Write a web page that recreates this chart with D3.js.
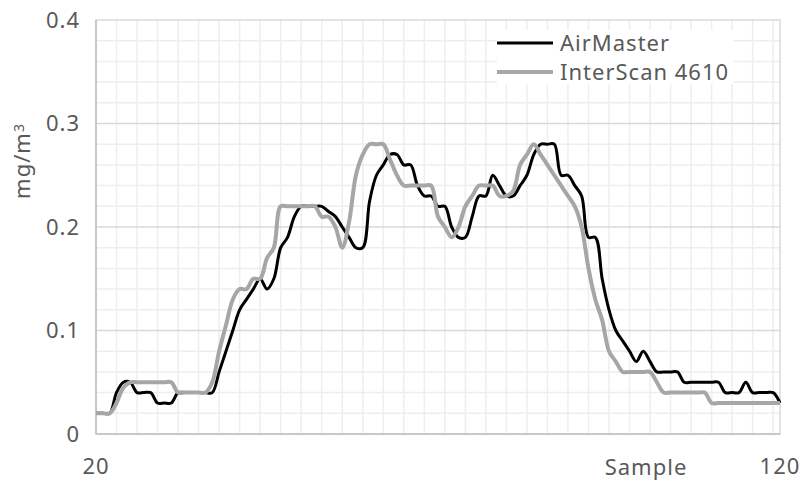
<!DOCTYPE html>
<html>
<head>
<meta charset="utf-8">
<script src="https://cdn.jsdelivr.net/npm/d3@7"></script>
<style>
  body { margin: 0; background: #fff; }
  svg text { font-family: "Noto Sans", "Open Sans", sans-serif; fill: #595959; letter-spacing: 1px; }
</style>
</head>
<body>
<script>
//chart data
var samples = d3.range(20, 121); //sample numbers 20..120
var airMaster = [
  0.02,0.02,0.02,0.04,0.05,0.05,0.04,0.04,0.04,0.03,
  0.03,0.03,0.04,0.04,0.04,0.04,0.04,0.04,0.06,0.08,
  0.10,0.12,0.13,0.14,0.15,0.14,0.15,0.18,0.19,0.21,
  0.22,0.22,0.22,0.22,0.215,0.21,0.20,0.19,0.18,0.18,
  0.225,0.25,0.26,0.27,0.27,0.26,0.26,0.24,0.23,0.23,
  0.22,0.22,0.20,0.19,0.19,0.21,0.23,0.23,0.25,0.24,
  0.23,0.23,0.24,0.25,0.27,0.28,0.28,0.28,0.25,0.25,
  0.24,0.23,0.19,0.19,0.15,0.12,0.10,0.09,0.08,0.07,
  0.08,0.07,0.06,0.06,0.06,0.06,0.05,0.05,0.05,0.05,
  0.05,0.05,0.04,0.04,0.04,0.05,0.04,0.04,0.04,0.04,
  0.03
];
var interScan = [
  0.02,0.02,0.02,0.03,0.045,0.05,0.05,0.05,0.05,0.05,
  0.05,0.05,0.04,0.04,0.04,0.04,0.04,0.05,0.08,0.105,
  0.13,0.14,0.14,0.15,0.15,0.17,0.18,0.22,0.22,0.22,
  0.22,0.22,0.22,0.21,0.21,0.20,0.18,0.205,0.25,0.27,
  0.28,0.28,0.28,0.265,0.25,0.24,0.24,0.24,0.24,0.24,
  0.21,0.20,0.19,0.20,0.22,0.23,0.24,0.24,0.24,0.23,
  0.23,0.235,0.26,0.27,0.28,0.27,0.26,0.25,0.24,0.23,
  0.22,0.20,0.16,0.13,0.11,0.08,0.07,0.06,0.06,0.06,
  0.06,0.06,0.05,0.04,0.04,0.04,0.04,0.04,0.04,0.04,
  0.03,0.03,0.03,0.03,0.03,0.03,0.03,0.03,0.03,0.03,
  0.03
];
var seriesNames = ["AirMaster", "InterScan 4610"];
var seriesColors = ["#000000", "#a6a6a6"];
var yTicks = [0, 0.1, 0.2, 0.3, 0.4];
var xTicks = [20, 120];

(function(){
    var width = 802, height = 485;
    var margin = {left: 96, right: 22, top: 20, bottom: 51};

    var svg = d3.select("body").append("svg")
        .attr("width", width)
        .attr("height", height);

    var x = d3.scaleLinear().domain([20, 120]).range([margin.left, width - margin.right]);
    var y = d3.scaleLinear().domain([0, 0.4]).range([height - margin.bottom, margin.top]);

    //minor gridlines
    var grid = svg.append("g");
    grid.selectAll(".vgrid")
        .data(d3.range(23, 120, 3))
        .enter().append("line")
        .attr("x1", function(d){ return x(d); })
        .attr("x2", function(d){ return x(d); })
        .attr("y1", y(0)).attr("y2", y(0.4))
        .attr("stroke", "#eeeeee").attr("stroke-width", 1.5);
    grid.selectAll(".hgrid")
        .data(d3.range(0.02, 0.4, 0.02))
        .enter().append("line")
        .attr("x1", x(20)).attr("x2", x(120))
        .attr("y1", function(d){ return y(d); })
        .attr("y2", function(d){ return y(d); })
        .attr("stroke", function(d){
            return Math.abs(d * 10 - Math.round(d * 10)) < 1e-6 ? "#d9d9d9" : "#eeeeee";
        })
        .attr("stroke-width", 1.5);

    //plot border
    svg.append("rect")
        .attr("x", x(20)).attr("y", y(0.4))
        .attr("width", x(120) - x(20)).attr("height", y(0) - y(0.4))
        .attr("fill", "none").attr("stroke", "#d9d9d9").attr("stroke-width", 1.5);
    svg.append("line")
        .attr("x1", x(20)).attr("x2", x(20)).attr("y1", y(0.4)).attr("y2", y(0))
        .attr("stroke", "#bfbfbf").attr("stroke-width", 1.5);
    svg.append("line")
        .attr("x1", x(20)).attr("x2", x(120)).attr("y1", y(0)).attr("y2", y(0))
        .attr("stroke", "#bfbfbf").attr("stroke-width", 1.5);

    //tick labels
    svg.selectAll(".ylab")
        .data(yTicks)
        .enter().append("text")
        .attr("x", 80)
        .attr("y", function(d){ return y(d); })
        .attr("dy", "0.35em")
        .attr("text-anchor", "end")
        .style("font-size", "22px")
        .text(function(d){ return d === 0 ? "0" : d3.format(".1f")(d); });
    svg.selectAll(".xlab")
        .data(xTicks)
        .enter().append("text")
        .attr("x", function(d){ return x(d); })
        .attr("y", 474)
        .attr("text-anchor", "middle")
        .style("font-size", "22px")
        .text(function(d){ return d; });

    //axis titles
    svg.append("text")
        .attr("x", 646).attr("y", 475)
        .attr("text-anchor", "middle")
        .style("font-size", "22px")
        .text("Sample");
    var yt = svg.append("text")
        .attr("transform", "translate(30,161) rotate(-90)")
        .attr("text-anchor", "middle")
        .style("font-size", "22px");
    yt.append("tspan").text("mg/m");
    yt.append("tspan").attr("dy", "-0.45em").style("font-size", "14px").text("3");

    //lines
    var line = d3.line()
        .x(function(d, i){ return x(samples[i]); })
        .y(function(d){ return y(d); })
        .curve(d3.curveCatmullRom.alpha(0.5));

    [airMaster, interScan].forEach(function(vals, k){
        svg.append("path")
            .datum(vals)
            .attr("d", line)
            .attr("fill", "none")
            .attr("stroke", seriesColors[k])
            .attr("stroke-width", k === 0 ? 3 : 4)
            .attr("stroke-linejoin", "round");
    });

    //legend
    var legend = svg.append("g");
    legend.append("rect")
        .attr("x", 497).attr("y", 30).attr("width", 236).attr("height", 54)
        .attr("fill", "#fff");
    seriesNames.forEach(function(name, k){
        var ly = 43 + k * 29;
        legend.append("line")
            .attr("x1", 497).attr("x2", 553).attr("y1", ly).attr("y2", ly)
            .attr("stroke", seriesColors[k]).attr("stroke-width", k === 0 ? 3 : 4);
        legend.append("text")
            .attr("x", 560).attr("y", ly)
            .attr("dy", "0.35em")
            .style("font-size", "22px")
            .text(name);
    });
})();
</script>
</body>
</html>
